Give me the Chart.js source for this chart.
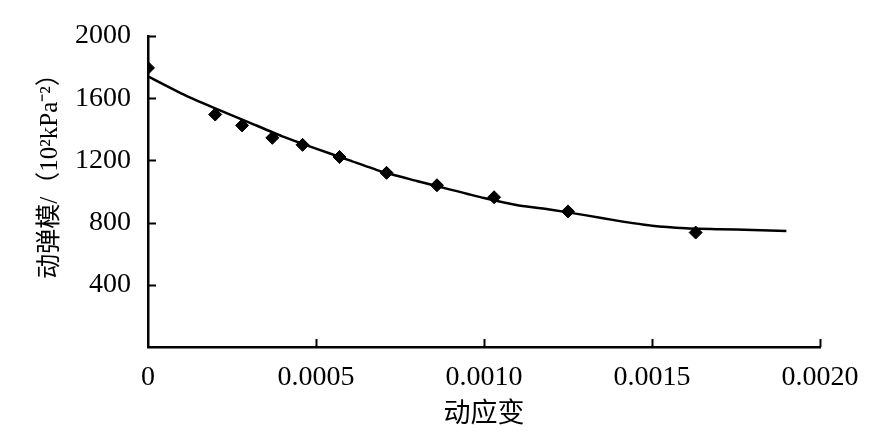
<!DOCTYPE html>
<html>
<head>
<meta charset="utf-8">
<script src="https://cdn.jsdelivr.net/npm/chart.js@4"></script>
<style>
  html, body { margin: 0; padding: 0; background: #fff; }
  #wrap { width: 875px; height: 445px; }
</style>
</head>
<body>
<div id="wrap"><canvas id="chart" width="875" height="445"></canvas></div>
<script>
// --- data ---
const strain = [0, 0.0002, 0.00028, 0.00037, 0.00046, 0.00057, 0.00071, 0.00086, 0.00103, 0.00125, 0.00163];
const modulus = [1795, 1495, 1425, 1345, 1300, 1222, 1120, 1040, 963, 872, 736];

// fitted curve
const fitStrain = [0, 0.0001, 0.0002, 0.0003, 0.0004, 0.0005, 0.0006, 0.0007, 0.0008, 0.0009,
                   0.0010, 0.0011, 0.0012, 0.0013, 0.0014, 0.0015, 0.0016, 0.0017, 0.0018, 0.0019];
const fitModulus = [1740, 1630, 1535, 1445, 1355, 1276, 1200, 1125, 1068, 1012,
                    958, 912, 883, 848, 811, 780, 764, 758, 752, 746];

const xTicks = [0, 0.0005, 0.0010, 0.0015, 0.0020];
const yTicks = [0, 400, 800, 1200, 1600, 2000];

const xTitle = '动应变';
const yTitle = '动弹模/（10²kPa⁻²）';

const tickFont = { family: "'Liberation Serif', 'Times New Roman', serif", size: 28 };
const cjkFamily = "'Liberation Serif', 'Noto Sans CJK SC', serif";

// ticks drawn inward + rotated y title
const innerTicks = {
    id: 'innerTicks',
    afterDraw(chart) {
        const ctx = chart.ctx;
        const xs = chart.scales.x, ys = chart.scales.y;
        const area = chart.chartArea;
        ctx.save();
        ctx.strokeStyle = '#000';
        ctx.lineWidth = 2;
        ctx.beginPath();
        xTicks.forEach(v => {
            if (v === 0) return;
            const px = Math.round(xs.getPixelForValue(v)) + 0.5;
            ctx.moveTo(px, area.bottom);
            ctx.lineTo(px, area.bottom - 8);
        });
        yTicks.forEach(v => {
            if (v === 0) return;
            const py = Math.round(ys.getPixelForValue(v)) + 0.5;
            ctx.moveTo(area.left, py);
            ctx.lineTo(area.left + 8, py);
        });
        ctx.stroke();

        // y title
        ctx.translate(50, 170);
        ctx.rotate(-Math.PI / 2);
        ctx.fillStyle = '#000';
        ctx.font = '25px ' + cjkFamily;
        ctx.textAlign = 'center';
        ctx.textBaseline = 'middle';
        ctx.fillText(yTitle, 0, 0);
        ctx.restore();
    }
};

const points = strain.map((x, i) => ({ x: x, y: modulus[i] }));
const fit = fitStrain.map((x, i) => ({ x: x, y: fitModulus[i] }));

new Chart(document.getElementById('chart'), {
    type: 'scatter',
    data: {
        datasets: [
            {
                label: 'fit',
                data: fit,
                showLine: true,
                borderColor: '#000',
                borderWidth: 2.5,
                pointRadius: 0,
                tension: 0.2,
                fill: false
            },
            {
                label: 'test',
                data: points,
                pointStyle: 'rectRot',
                pointRadius: 6.5,
                backgroundColor: '#000',
                borderColor: '#000',
                borderWidth: 1
            }
        ]
    },
    options: {
        responsive: false,
        animation: false,
        devicePixelRatio: 1,
        layout: { padding: { top: 36, right: 55, left: 0, bottom: 0 } },
        plugins: { legend: { display: false }, tooltip: { enabled: false } },
        scales: {
            x: {
                type: 'linear',
                min: 0,
                max: 0.002,
                afterFit(scale) { scale.height = 98; },
                afterBuildTicks(scale) { scale.ticks = xTicks.map(v => ({ value: v })); },
                grid: { display: false, drawTicks: false },
                border: { display: true, color: '#000', width: 2.5 },
                ticks: {
                    color: '#000',
                    font: tickFont,
                    padding: 14,
                    maxRotation: 0,
                    callback: v => v === 0 ? '0' : v.toFixed(4)
                },
                title: {
                    display: true,
                    text: xTitle,
                    color: '#000',
                    font: { family: cjkFamily, size: 27 },
                    padding: { top: 0, bottom: 14 }
                }
            },
            y: {
                min: 0,
                max: 2000,
                afterFit(scale) { scale.width = 148; },
                afterBuildTicks(scale) { scale.ticks = yTicks.map(v => ({ value: v })); },
                grid: { display: false, drawTicks: false },
                border: { display: true, color: '#000', width: 2.5 },
                ticks: {
                    color: '#000',
                    font: tickFont,
                    padding: 17,
                    callback: v => v === 0 ? '' : String(v)
                }
            }
        }
    },
    plugins: [innerTicks]
});
</script>
</body>
</html>
